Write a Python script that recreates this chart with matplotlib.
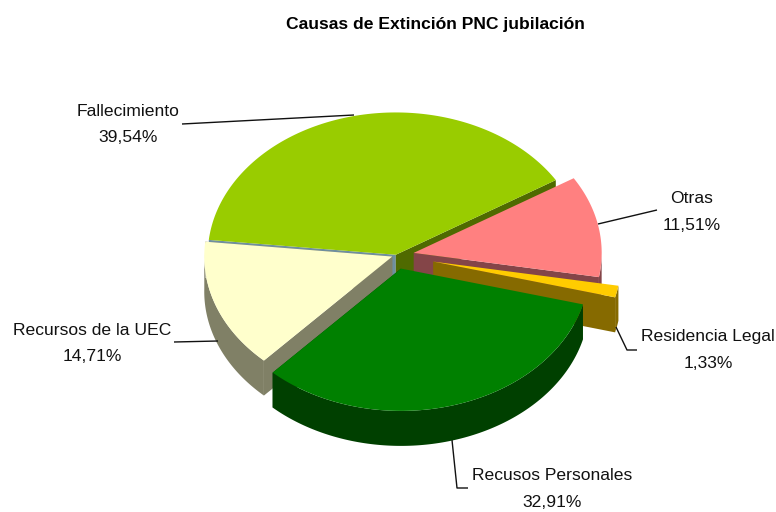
import matplotlib
matplotlib.use('Agg')
import matplotlib.pyplot as plt
from matplotlib.patches import Polygon
import numpy as np

# Slices, clockwise from the Fallecimiento / UEC border
categories = ['Fallecimiento', 'Otras', 'Residencia Legal', 'Recusos Personales', 'Recursos de la UEC']
values = [39.54, 11.51, 1.33, 32.91, 14.71]
value_labels = ['39,54%', '11,51%', '1,33%', '32,91%', '14,71%']

# Styles
top_colors = ['#99CC00', '#FF8080', '#FFCC00', '#008000', '#FFFFCC']
wall_colors = ['#4F6A00', '#844548', '#866A00', '#004000', '#808066']
back_wall = '#6F8F9F'
explode = [1, 18, 38, 18, 4]
draw_order = [0, 1, 4, 2, 3]

# Projection of the pie, in pixels
cx, cy = 396, 255.5
radius = 188
squash = 0.757
depth = 35
start_angle = 174

# Text centre and leader line of each label
label_pos = [(128, 124.5), (692, 212), (708, 350), (552, 489), (92, 343.5)]
leaders = [
    [(182, 124), (354, 115)],
    [(598, 224), (657, 210)],
    [(616, 327), (627, 350), (637, 350)],
    [(452, 440), (457, 488), (468, 488)],
    [(174, 342), (218, 341)],
]

fig = plt.figure(figsize=(7.76, 5.12), dpi=100)
ax = fig.add_axes([0, 0, 1, 1])
ax.set_xlim(0, 776)
ax.set_ylim(512, 0)
ax.axis('off')


def project(x0, y0, angle):
    a = np.radians(angle)
    return x0 + radius * np.cos(a), y0 - radius * squash * np.sin(a)


def shape(points, color, zorder, edge='none'):
    ax.add_patch(Polygon(points, closed=True, facecolor=color, edgecolor=edge,
                         linewidth=0.5, zorder=zorder))


sweeps = np.array(values) / sum(values) * 360
ends = start_angle - np.cumsum(sweeps)
starts = ends + sweeps

z = 1
for i in draw_order:
    a0, a1 = starts[i], ends[i]
    mid = np.radians((a0 + a1) / 2)
    x0 = cx + explode[i] * np.cos(mid)
    y0 = cy - explode[i] * squash * np.sin(mid)

    angles = np.linspace(a0, a1, 120)
    arc_x, arc_y = project(x0, y0, angles)
    top = np.column_stack([np.r_[x0, arc_x], np.r_[y0, arc_y]])

    # cut faces, then the outer rim where it faces the viewer
    tip0 = project(x0, y0, a0)
    tip1 = project(x0, y0, a1)
    if i == 0:
        shape([(x0, y0), tip0, (tip0[0], tip0[1] + depth), (x0, y0 + depth)], back_wall, z)
    shape([(x0, y0), tip1, (tip1[0], tip1[1] + depth), (x0, y0 + depth)], wall_colors[i], z)
    if i == 4:
        shape([(x0, y0), tip0, (tip0[0], tip0[1] + depth), (x0, y0 + depth)], wall_colors[i], z)
    front = np.sin(np.radians(angles)) <= 0.02
    if front.any():
        rim_x, rim_y = arc_x[front], arc_y[front]
        rim = np.column_stack([np.r_[rim_x, rim_x[::-1]], np.r_[rim_y, rim_y[::-1] + depth]])
        shape(rim, wall_colors[i], z)
    # light seam where the cut face meets the rim
    if i == 4:
        ax.plot([tip1[0], tip1[0]], [tip1[1], tip1[1] + depth], color='#B8B8A8', lw=0.7, zorder=z + 0.2)
    shape(top, top_colors[i], z + 0.5)
    z += 1

for line in leaders:
    xs, ys = zip(*line)
    ax.plot(xs, ys, color='#111111', lw=1, zorder=20, solid_capstyle='butt')

plt.rcParams['font.family'] = ['Liberation Sans', 'DejaVu Sans']
for name, pct, (x, y) in zip(categories, value_labels, label_pos):
    ax.text(x, y, name + '\n' + pct, ha='center', va='center', fontsize=12.6,
            color='#111111', linespacing=1.95, zorder=21)

ax.text(435, 24, 'Causas de Extinción PNC jubilación', ha='center', va='center',
        fontsize=12.6, fontweight='bold', color='black')

fig.savefig('out.png', dpi=100, facecolor='white')
